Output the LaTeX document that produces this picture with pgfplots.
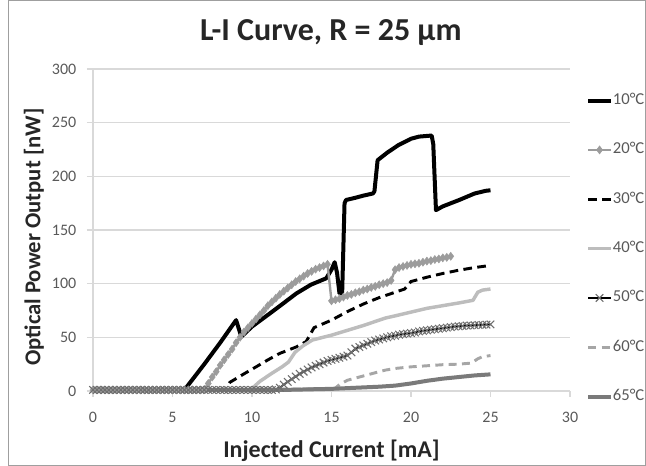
\documentclass[border=0pt]{standalone}
\usepackage{fontspec}
\setmainfont{Carlito}
\usepackage{pgfplots}
\pgfplotsset{compat=1.18}

\definecolor{gridgray}{HTML}{D9D9D9}
\definecolor{ticktext}{HTML}{595959}
\definecolor{labeltext}{HTML}{262626}
\definecolor{c20}{HTML}{9C9C9C}
\definecolor{c40}{HTML}{BDBDBD}
\definecolor{c50m}{HTML}{6E6E6E}
\definecolor{c60}{HTML}{A6A6A6}
\definecolor{c65}{HTML}{7A7A7A}

\begin{document}
\begin{tikzpicture}[x=1pt,y=1pt]
\useasboundingbox (-69.75,-56.25) rectangle (414.75,293.25);
\draw[gray!75, line width=0.75pt] (-63.5,-55.6) rectangle (414.2,292.7);
\begin{axis}[
  at={(0,0)}, anchor=south west,
  scale only axis,
  width=357.75pt, height=241.5pt,
  xmin=0, xmax=30, ymin=0, ymax=300,
  xtick={0,5,...,30}, ytick={0,50,...,300},
  axis x line*=bottom, axis y line*=left,
  axis line style={draw=gridgray, line width=0.8pt, -},
  tick align=outside,
  major tick length=4.5pt,
  tick style={draw=gridgray, line width=0.8pt},
  ymajorgrids,
  grid style={draw=gridgray, line width=0.8pt},
  /pgf/number format/assume math mode=true,
  ticklabel style={font=\fontsize{12}{14}\selectfont, text=ticktext},
  xticklabel style={yshift=-8pt},
  yticklabel style={xshift=-4.5pt},
  xlabel={Injected Current [mA]},
  ylabel={Optical Power Output [nW]},
  label style={text=labeltext},
  xlabel style={font=\bfseries\fontsize{18}{21}\selectfont,
    at={(axis description cs:0.5,-0.185)}, anchor=center},
  ylabel style={font=\bfseries\fontsize{17}{20}\selectfont,
    at={(axis description cs:-0.124,0.478)}, anchor=center},
  clip=false,
  legend cell align=left,
  legend style={
    at={(axis description cs:1.0335,0.9255)}, anchor=north west,
    draw=none, fill=none,
    font=\fontsize{12.5}{14}\selectfont, text=ticktext,
    row sep=26pt, inner sep=0pt,
    nodes={inner sep=0pt, text height=8.5pt, text depth=2.5pt},
  },
  legend image code/.code={
    \draw[mark repeat=2, mark phase=2, #1] plot coordinates {(0pt,0pt) (8.5pt,0pt) (17pt,0pt)};
  },
]

% 10 C
\addplot[black, line width=3pt, line join=round] coordinates {
  (0,1) (5.75,1) (7,25) (8,45) (9,66) (9.33,50.6) (10,60) (11.1,72)
  (12,82) (12.8,91) (13.7,99) (14.67,105) (15.0,113) (15.2,120)
  (15.35,110) (15.5,91) (15.67,91) (15.82,175) (15.92,178) (16.5,180)
  (17,182) (17.6,184) (17.7,186) (17.9,215) (18.5,222) (19.2,229)
  (20.0,235) (20.5,237) (21.3,238) (21.4,230) (21.57,168.5) (22,172)
  (23.04,178) (24,184) (24.7,186.5) (25,187)
};
\addlegendentry{10°C}

% 20 C
\addplot[c20, line width=1.8pt, mark=diamond*, mark size=3pt,
  mark options={fill=c20, draw=c20, line width=0.4pt}] coordinates {
  (0,1) (0.25,1) (0.5,1) (0.75,1) (1,1) (1.25,1) (1.5,1) (1.75,1)
  (2,1) (2.25,1) (2.5,1) (2.75,1) (3,1) (3.25,1) (3.5,1) (3.75,1)
  (4,1) (4.25,1) (4.5,1) (4.75,1) (5,1) (5.25,1) (5.5,1) (5.75,1)
  (6,1) (6.25,1) (6.5,1) (6.75,1) (7,1.5) (7.25,7) (7.5,13) (7.75,18)
  (8,24) (8.25,29) (8.5,34) (8.75,39) (9,45) (9.25,50) (9.5,55) (9.75,59)
  (10,63) (10.25,67) (10.5,71) (10.75,75) (11,79.5) (11.25,83) (11.5,86.5) (11.75,90)
  (12,93) (12.25,96) (12.5,99) (12.75,102) (13,104.5) (13.25,107) (13.5,109.5) (13.75,111.5)
  (14,113.5) (14.25,115) (14.5,116.5) (14.75,118) (15,84) (15.25,85) (15.5,86) (15.75,87.5)
  (16,89) (16.25,90) (16.5,91.5) (16.75,92.5) (17,94) (17.25,95) (17.5,96.5) (17.75,97.5)
  (18,99) (18.25,100) (18.5,101) (18.75,103) (19,113) (19.25,115) (19.5,116) (19.75,117)
  (20,118) (20.25,118.5) (20.5,119) (20.75,120) (21,121) (21.25,121.5) (21.5,122.5) (21.75,123)
  (22,124) (22.25,124.5) (22.5,125.5)
};
\addlegendentry{20°C}

% 30 C
\addplot[black, line width=2.2pt, dash pattern=on 6.5pt off 4pt] coordinates {
  (0,1) (8.3,1) (8.6,8) (9.5,16) (10.27,22.6) (11,29) (11.74,35)
  (12.78,41) (13.4,46) (13.6,51) (13.9,59) (15,66) (16,74) (17,81)
  (18,87) (19,92) (19.6,95) (20.0,102) (21,106) (22,109.5) (23,112.5)
  (24,115) (25,117)
};
\addlegendentry{30°C}

% 40 C
\addplot[c40, line width=2.6pt, line join=round] coordinates {
  (0,1) (9.9,1) (10.5,9) (11.2,16) (11.9,22.6) (12.3,27) (12.7,36)
  (13.2,42) (13.8,47.5) (15,52) (16,56.5) (17,61) (18,66) (18.4,68)
  (19,70) (20,73.5) (21,77) (22,79.5) (23,82) (23.9,84.5) (24.2,92)
  (24.5,94) (25,95)
};
\addlegendentry{40°C}

% 50 C
\addplot[black, line width=1.3pt, mark=x, mark size=4pt,
  mark options={draw=c50m, line width=0.8pt}] coordinates {
  (0,1) (0.25,1) (0.5,1) (0.75,1) (1,1) (1.25,1) (1.5,1) (1.75,1)
  (2,1) (2.25,1) (2.5,1) (2.75,1) (3,1) (3.25,1) (3.5,1) (3.75,1)
  (4,1) (4.25,1) (4.5,1) (4.75,1) (5,1) (5.25,1) (5.5,1) (5.75,1)
  (6,1) (6.25,1) (6.5,1) (6.75,1) (7,1) (7.25,1) (7.5,1) (7.75,1)
  (8,1) (8.25,1) (8.5,1) (8.75,1) (9,1) (9.25,1) (9.5,1) (9.75,1)
  (10,1) (10.25,1) (10.5,1) (10.75,1) (11,1) (11.25,1) (11.5,1.5) (11.75,3)
  (12,6) (12.25,8.5) (12.5,11) (12.75,13.5) (13,16) (13.25,18) (13.5,20) (13.75,22)
  (14,23.5) (14.25,25) (14.5,26.5) (14.75,28) (15,29) (15.25,30) (15.5,31) (15.75,32)
  (16,33) (16.25,36) (16.5,39.5) (16.75,41) (17,42.5) (17.25,44) (17.5,45.5) (17.75,47)
  (18,48) (18.25,49) (18.5,50) (18.75,51) (19,51.5) (19.25,52.5) (19.5,53) (19.75,53.5)
  (20,54) (20.25,54.5) (20.5,55.5) (20.75,56) (21,56.5) (21.25,57) (21.5,57.5) (21.75,58)
  (22,58.5) (22.25,59) (22.5,59.5) (22.75,60) (23,60.3) (23.25,60.6) (23.5,60.9) (23.75,61.1)
  (24,61.3) (24.25,61.5) (24.5,61.6) (24.75,61.8) (25,62)
};
\addlegendentry{50°C}

% 60 C
\addplot[c60, line width=2.2pt, dash pattern=on 6pt off 4pt] coordinates {
  (0,1) (15.2,2) (15.5,6) (16,10) (17,14) (18,18) (18.4,19.5) (19,21)
  (20,22.5) (21,23.5) (22,24.5) (23,25) (23.8,26) (24.2,30) (24.5,32)
  (25,33)
};
\addlegendentry{60°C}

% 65 C
\addplot[c65, line width=3pt, line join=round] coordinates {
  (0,1) (12,1) (15,2) (18,4) (19,5) (20,7) (21,9.5) (22,11.5)
  (23,13) (24,14.5) (25,15.5)
};
\addlegendentry{65°C}

\end{axis}
\node[font=\bfseries\fontsize{24}{28}\selectfont, text=labeltext, anchor=base]
  at (178.4,262.5) {L-I Curve, R = 25 µm};
\end{tikzpicture}
\end{document}
